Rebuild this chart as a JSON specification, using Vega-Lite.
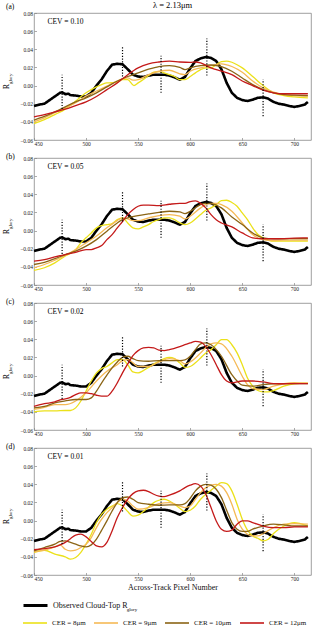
{
  "$schema": "https://vega.github.io/schema/vega-lite/v6.json",
  "padding": {"left": 3, "top": 1, "right": 2, "bottom": 0},
  "title": {"text": "λ = 2.13μm", "anchor": "middle", "frame": "group", "offset": -7, "fontSize": 8.5, "font": "Liberation Serif", "fontWeight": "normal"},
  "bounds": "flush",
  "spacing": 18,
  "datasets": {
    "obs": [
      {"x":450,"v":-0.0225},{"x":455,"v":-0.021},{"x":460,"v":-0.02},{"x":465,"v":-0.016},{"x":470,"v":-0.012},{"x":475,"v":-0.008},{"x":477,"v":-0.0075},{"x":480,"v":-0.0095},{"x":483,"v":-0.009},{"x":485,"v":-0.0105},{"x":490,"v":-0.011},{"x":495,"v":-0.012},{"x":500,"v":-0.012},{"x":505,"v":-0.008},{"x":510,"v":0.0},{"x":515,"v":0.007},{"x":520,"v":0.016},{"x":525,"v":0.023},{"x":530,"v":0.024},{"x":535,"v":0.0235},{"x":540,"v":0.018},{"x":545,"v":0.012},{"x":550,"v":0.010},{"x":555,"v":0.0095},{"x":560,"v":0.011},{"x":565,"v":0.012},{"x":570,"v":0.012},{"x":575,"v":0.012},{"x":580,"v":0.011},{"x":585,"v":0.009},{"x":590,"v":0.0065},{"x":595,"v":0.0095},{"x":600,"v":0.019},{"x":605,"v":0.027},{"x":610,"v":0.030},{"x":615,"v":0.0315},{"x":620,"v":0.0305},{"x":625,"v":0.027},{"x":630,"v":0.018},{"x":635,"v":0.003},{"x":640,"v":-0.008},{"x":645,"v":-0.0135},{"x":650,"v":-0.016},{"x":655,"v":-0.017},{"x":660,"v":-0.0155},{"x":665,"v":-0.0135},{"x":670,"v":-0.013},{"x":675,"v":-0.0145},{"x":680,"v":-0.018},{"x":685,"v":-0.02},{"x":690,"v":-0.021},{"x":695,"v":-0.0225},{"x":700,"v":-0.0235},{"x":705,"v":-0.0225},{"x":710,"v":-0.021},{"x":713,"v":-0.018}
    ],
    "dots": [
      {"x":477,"y1":-0.0257,"y2":0.012},{"x":535,"y1":0.010,"y2":0.044},{"x":572,"y1":-0.008,"y2":0.033},{"x":616,"y1":0.011,"y2":0.052},{"x":670,"y1":-0.0337,"y2":0.0066}
    ],
    "notes": [
      {"p":"a","lab":"(a)","cev":"CEV = 0.10"},{"p":"b","lab":"(b)","cev":"CEV = 0.05"},{"p":"c","lab":"(c)","cev":"CEV = 0.02"},{"p":"d","lab":"(d)","cev":"CEV = 0.01"}
    ],
    "sims": [
      {"p":"a","c":"CER = 8μm","x":450,"v":-0.042},{"p":"a","c":"CER = 8μm","x":460,"v":-0.0375},{"p":"a","c":"CER = 8μm","x":470,"v":-0.032},{"p":"a","c":"CER = 8μm","x":480,"v":-0.026},{"p":"a","c":"CER = 8μm","x":490,"v":-0.017},{"p":"a","c":"CER = 8μm","x":500,"v":-0.008},{"p":"a","c":"CER = 8μm","x":510,"v":-0.0015},{"p":"a","c":"CER = 8μm","x":520,"v":0.003},{"p":"a","c":"CER = 8μm","x":530,"v":0.0037},{"p":"a","c":"CER = 8μm","x":535,"v":0.0066},{"p":"a","c":"CER = 8μm","x":540,"v":0.0066},{"p":"a","c":"CER = 8μm","x":546,"v":0.0},{"p":"a","c":"CER = 8μm","x":550,"v":0.003},{"p":"a","c":"CER = 8μm","x":555,"v":0.0066},{"p":"a","c":"CER = 8μm","x":560,"v":0.011},{"p":"a","c":"CER = 8μm","x":565,"v":0.0147},{"p":"a","c":"CER = 8μm","x":570,"v":0.0154},{"p":"a","c":"CER = 8μm","x":575,"v":0.014},{"p":"a","c":"CER = 8μm","x":580,"v":0.012},{"p":"a","c":"CER = 8μm","x":585,"v":0.010},{"p":"a","c":"CER = 8μm","x":590,"v":0.0066},{"p":"a","c":"CER = 8μm","x":595,"v":0.0066},{"p":"a","c":"CER = 8μm","x":600,"v":0.010},{"p":"a","c":"CER = 8μm","x":605,"v":0.014},{"p":"a","c":"CER = 8μm","x":610,"v":0.0176},{"p":"a","c":"CER = 8μm","x":615,"v":0.0195},{"p":"a","c":"CER = 8μm","x":620,"v":0.0195},{"p":"a","c":"CER = 8μm","x":625,"v":0.023},{"p":"a","c":"CER = 8μm","x":630,"v":0.0264},{"p":"a","c":"CER = 8μm","x":635,"v":0.027},{"p":"a","c":"CER = 8μm","x":640,"v":0.0257},{"p":"a","c":"CER = 8μm","x":645,"v":0.023},{"p":"a","c":"CER = 8μm","x":650,"v":0.0195},{"p":"a","c":"CER = 8μm","x":660,"v":0.010},{"p":"a","c":"CER = 8μm","x":670,"v":0.0},{"p":"a","c":"CER = 8μm","x":680,"v":-0.008},{"p":"a","c":"CER = 8μm","x":690,"v":-0.011},{"p":"a","c":"CER = 8μm","x":700,"v":-0.0125},{"p":"a","c":"CER = 8μm","x":713,"v":-0.0135},
      {"p":"a","c":"CER = 9μm","x":450,"v":-0.040},{"p":"a","c":"CER = 9μm","x":460,"v":-0.0356},{"p":"a","c":"CER = 9μm","x":470,"v":-0.030},{"p":"a","c":"CER = 9μm","x":480,"v":-0.0246},{"p":"a","c":"CER = 9μm","x":490,"v":-0.019},{"p":"a","c":"CER = 9μm","x":500,"v":-0.0117},{"p":"a","c":"CER = 9μm","x":510,"v":-0.006},{"p":"a","c":"CER = 9μm","x":520,"v":-0.0007},{"p":"a","c":"CER = 9μm","x":530,"v":0.005},{"p":"a","c":"CER = 9μm","x":540,"v":0.0084},{"p":"a","c":"CER = 9μm","x":545,"v":0.006},{"p":"a","c":"CER = 9μm","x":550,"v":0.0066},{"p":"a","c":"CER = 9μm","x":560,"v":0.012},{"p":"a","c":"CER = 9μm","x":570,"v":0.0158},{"p":"a","c":"CER = 9μm","x":580,"v":0.0169},{"p":"a","c":"CER = 9μm","x":590,"v":0.013},{"p":"a","c":"CER = 9μm","x":595,"v":0.012},{"p":"a","c":"CER = 9μm","x":600,"v":0.0158},{"p":"a","c":"CER = 9μm","x":610,"v":0.0195},{"p":"a","c":"CER = 9μm","x":620,"v":0.022},{"p":"a","c":"CER = 9μm","x":630,"v":0.024},{"p":"a","c":"CER = 9μm","x":640,"v":0.021},{"p":"a","c":"CER = 9μm","x":650,"v":0.0147},{"p":"a","c":"CER = 9μm","x":660,"v":0.005},{"p":"a","c":"CER = 9μm","x":670,"v":-0.0026},{"p":"a","c":"CER = 9μm","x":680,"v":-0.0073},{"p":"a","c":"CER = 9μm","x":690,"v":-0.010},{"p":"a","c":"CER = 9μm","x":700,"v":-0.011},{"p":"a","c":"CER = 9μm","x":713,"v":-0.0117},
      {"p":"a","c":"CER = 10μm","x":450,"v":-0.038},{"p":"a","c":"CER = 10μm","x":460,"v":-0.034},{"p":"a","c":"CER = 10μm","x":470,"v":-0.029},{"p":"a","c":"CER = 10μm","x":480,"v":-0.0235},{"p":"a","c":"CER = 10μm","x":490,"v":-0.018},{"p":"a","c":"CER = 10μm","x":500,"v":-0.0136},{"p":"a","c":"CER = 10μm","x":510,"v":-0.008},{"p":"a","c":"CER = 10μm","x":520,"v":-0.0015},{"p":"a","c":"CER = 10μm","x":530,"v":0.005},{"p":"a","c":"CER = 10μm","x":540,"v":0.010},{"p":"a","c":"CER = 10μm","x":550,"v":0.014},{"p":"a","c":"CER = 10μm","x":560,"v":0.018},{"p":"a","c":"CER = 10μm","x":570,"v":0.021},{"p":"a","c":"CER = 10μm","x":580,"v":0.022},{"p":"a","c":"CER = 10μm","x":590,"v":0.020},{"p":"a","c":"CER = 10μm","x":595,"v":0.0176},{"p":"a","c":"CER = 10μm","x":600,"v":0.0195},{"p":"a","c":"CER = 10μm","x":610,"v":0.022},{"p":"a","c":"CER = 10μm","x":620,"v":0.0227},{"p":"a","c":"CER = 10μm","x":630,"v":0.021},{"p":"a","c":"CER = 10μm","x":640,"v":0.0158},{"p":"a","c":"CER = 10μm","x":650,"v":0.0084},{"p":"a","c":"CER = 10μm","x":660,"v":0.0011},{"p":"a","c":"CER = 10μm","x":670,"v":-0.0044},{"p":"a","c":"CER = 10μm","x":680,"v":-0.008},{"p":"a","c":"CER = 10μm","x":690,"v":-0.010},{"p":"a","c":"CER = 10μm","x":700,"v":-0.0106},{"p":"a","c":"CER = 10μm","x":713,"v":-0.011},
      {"p":"a","c":"CER = 12μm","x":450,"v":-0.0345},{"p":"a","c":"CER = 12μm","x":460,"v":-0.032},{"p":"a","c":"CER = 12μm","x":470,"v":-0.029},{"p":"a","c":"CER = 12μm","x":480,"v":-0.026},{"p":"a","c":"CER = 12μm","x":490,"v":-0.022},{"p":"a","c":"CER = 12μm","x":500,"v":-0.018},{"p":"a","c":"CER = 12μm","x":510,"v":-0.012},{"p":"a","c":"CER = 12μm","x":520,"v":-0.0045},{"p":"a","c":"CER = 12μm","x":530,"v":0.003},{"p":"a","c":"CER = 12μm","x":540,"v":0.012},{"p":"a","c":"CER = 12μm","x":550,"v":0.0195},{"p":"a","c":"CER = 12μm","x":560,"v":0.024},{"p":"a","c":"CER = 12μm","x":570,"v":0.026},{"p":"a","c":"CER = 12μm","x":580,"v":0.027},{"p":"a","c":"CER = 12μm","x":590,"v":0.026},{"p":"a","c":"CER = 12μm","x":600,"v":0.0255},{"p":"a","c":"CER = 12μm","x":605,"v":0.026},{"p":"a","c":"CER = 12μm","x":610,"v":0.025},{"p":"a","c":"CER = 12μm","x":620,"v":0.0195},{"p":"a","c":"CER = 12μm","x":630,"v":0.016},{"p":"a","c":"CER = 12μm","x":640,"v":0.012},{"p":"a","c":"CER = 12μm","x":650,"v":0.005},{"p":"a","c":"CER = 12μm","x":660,"v":0.0},{"p":"a","c":"CER = 12μm","x":670,"v":-0.005},{"p":"a","c":"CER = 12μm","x":680,"v":-0.008},{"p":"a","c":"CER = 12μm","x":690,"v":-0.009},{"p":"a","c":"CER = 12μm","x":700,"v":-0.009},{"p":"a","c":"CER = 12μm","x":713,"v":-0.009},

      {"p":"b","c":"CER = 8μm","x":450,"v":-0.044},{"p":"b","c":"CER = 8μm","x":460,"v":-0.041},{"p":"b","c":"CER = 8μm","x":470,"v":-0.0356},{"p":"b","c":"CER = 8μm","x":480,"v":-0.028},{"p":"b","c":"CER = 8μm","x":490,"v":-0.021},{"p":"b","c":"CER = 8μm","x":495,"v":-0.0136},{"p":"b","c":"CER = 8μm","x":500,"v":-0.008},{"p":"b","c":"CER = 8μm","x":505,"v":-0.0026},{"p":"b","c":"CER = 8μm","x":510,"v":0.003},{"p":"b","c":"CER = 8μm","x":515,"v":0.0055},{"p":"b","c":"CER = 8μm","x":520,"v":0.0066},{"p":"b","c":"CER = 8μm","x":525,"v":0.0077},{"p":"b","c":"CER = 8μm","x":530,"v":0.012},{"p":"b","c":"CER = 8μm","x":535,"v":0.014},{"p":"b","c":"CER = 8μm","x":540,"v":0.0084},{"p":"b","c":"CER = 8μm","x":545,"v":0.003},{"p":"b","c":"CER = 8μm","x":550,"v":0.0018},{"p":"b","c":"CER = 8μm","x":555,"v":0.004},{"p":"b","c":"CER = 8μm","x":560,"v":0.0066},{"p":"b","c":"CER = 8μm","x":565,"v":0.010},{"p":"b","c":"CER = 8μm","x":570,"v":0.012},{"p":"b","c":"CER = 8μm","x":575,"v":0.014},{"p":"b","c":"CER = 8μm","x":580,"v":0.014},{"p":"b","c":"CER = 8μm","x":585,"v":0.012},{"p":"b","c":"CER = 8μm","x":590,"v":0.0084},{"p":"b","c":"CER = 8μm","x":595,"v":0.0066},{"p":"b","c":"CER = 8μm","x":600,"v":0.0084},{"p":"b","c":"CER = 8μm","x":605,"v":0.0128},{"p":"b","c":"CER = 8μm","x":610,"v":0.0176},{"p":"b","c":"CER = 8μm","x":615,"v":0.0224},{"p":"b","c":"CER = 8μm","x":620,"v":0.025},{"p":"b","c":"CER = 8μm","x":625,"v":0.0286},{"p":"b","c":"CER = 8μm","x":630,"v":0.033},{"p":"b","c":"CER = 8μm","x":635,"v":0.0334},{"p":"b","c":"CER = 8μm","x":640,"v":0.031},{"p":"b","c":"CER = 8μm","x":645,"v":0.0268},{"p":"b","c":"CER = 8μm","x":650,"v":0.0194},{"p":"b","c":"CER = 8μm","x":655,"v":0.012},{"p":"b","c":"CER = 8μm","x":660,"v":0.003},{"p":"b","c":"CER = 8μm","x":665,"v":-0.0044},{"p":"b","c":"CER = 8μm","x":670,"v":-0.008},{"p":"b","c":"CER = 8μm","x":680,"v":-0.0117},{"p":"b","c":"CER = 8μm","x":690,"v":-0.0117},{"p":"b","c":"CER = 8μm","x":700,"v":-0.0117},{"p":"b","c":"CER = 8μm","x":713,"v":-0.0117},
      {"p":"b","c":"CER = 9μm","x":450,"v":-0.041},{"p":"b","c":"CER = 9μm","x":460,"v":-0.0374},{"p":"b","c":"CER = 9μm","x":470,"v":-0.0327},{"p":"b","c":"CER = 9μm","x":480,"v":-0.0275},{"p":"b","c":"CER = 9μm","x":490,"v":-0.021},{"p":"b","c":"CER = 9μm","x":500,"v":-0.0136},{"p":"b","c":"CER = 9μm","x":510,"v":-0.006},{"p":"b","c":"CER = 9μm","x":520,"v":0.003},{"p":"b","c":"CER = 9μm","x":530,"v":0.011},{"p":"b","c":"CER = 9μm","x":535,"v":0.014},{"p":"b","c":"CER = 9μm","x":540,"v":0.0128},{"p":"b","c":"CER = 9μm","x":545,"v":0.011},{"p":"b","c":"CER = 9μm","x":550,"v":0.011},{"p":"b","c":"CER = 9μm","x":560,"v":0.014},{"p":"b","c":"CER = 9μm","x":570,"v":0.0165},{"p":"b","c":"CER = 9μm","x":580,"v":0.0176},{"p":"b","c":"CER = 9μm","x":590,"v":0.0158},{"p":"b","c":"CER = 9μm","x":595,"v":0.0128},{"p":"b","c":"CER = 9μm","x":600,"v":0.0158},{"p":"b","c":"CER = 9μm","x":610,"v":0.025},{"p":"b","c":"CER = 9μm","x":615,"v":0.0286},{"p":"b","c":"CER = 9μm","x":620,"v":0.030},{"p":"b","c":"CER = 9μm","x":625,"v":0.030},{"p":"b","c":"CER = 9μm","x":630,"v":0.0286},{"p":"b","c":"CER = 9μm","x":640,"v":0.0213},{"p":"b","c":"CER = 9μm","x":650,"v":0.0084},{"p":"b","c":"CER = 9μm","x":660,"v":-0.0044},{"p":"b","c":"CER = 9μm","x":670,"v":-0.010},{"p":"b","c":"CER = 9μm","x":680,"v":-0.011},{"p":"b","c":"CER = 9μm","x":690,"v":-0.0106},{"p":"b","c":"CER = 9μm","x":700,"v":-0.0106},{"p":"b","c":"CER = 9μm","x":713,"v":-0.0106},
      {"p":"b","c":"CER = 10μm","x":450,"v":-0.0374},{"p":"b","c":"CER = 10μm","x":460,"v":-0.035},{"p":"b","c":"CER = 10μm","x":470,"v":-0.031},{"p":"b","c":"CER = 10μm","x":480,"v":-0.0264},{"p":"b","c":"CER = 10μm","x":490,"v":-0.0227},{"p":"b","c":"CER = 10μm","x":500,"v":-0.0172},{"p":"b","c":"CER = 10μm","x":510,"v":-0.010},{"p":"b","c":"CER = 10μm","x":520,"v":-0.0007},{"p":"b","c":"CER = 10μm","x":530,"v":0.0084},{"p":"b","c":"CER = 10μm","x":535,"v":0.012},{"p":"b","c":"CER = 10μm","x":540,"v":0.014},{"p":"b","c":"CER = 10μm","x":550,"v":0.0165},{"p":"b","c":"CER = 10μm","x":560,"v":0.0183},{"p":"b","c":"CER = 10μm","x":570,"v":0.020},{"p":"b","c":"CER = 10μm","x":580,"v":0.0213},{"p":"b","c":"CER = 10μm","x":590,"v":0.0205},{"p":"b","c":"CER = 10μm","x":595,"v":0.0187},{"p":"b","c":"CER = 10μm","x":600,"v":0.0213},{"p":"b","c":"CER = 10μm","x":610,"v":0.0286},{"p":"b","c":"CER = 10μm","x":615,"v":0.030},{"p":"b","c":"CER = 10μm","x":620,"v":0.0297},{"p":"b","c":"CER = 10μm","x":630,"v":0.025},{"p":"b","c":"CER = 10μm","x":640,"v":0.015},{"p":"b","c":"CER = 10μm","x":650,"v":0.0066},{"p":"b","c":"CER = 10μm","x":660,"v":-0.0026},{"p":"b","c":"CER = 10μm","x":670,"v":-0.008},{"p":"b","c":"CER = 10μm","x":680,"v":-0.009},{"p":"b","c":"CER = 10μm","x":690,"v":-0.009},{"p":"b","c":"CER = 10μm","x":700,"v":-0.0088},{"p":"b","c":"CER = 10μm","x":713,"v":-0.0088},
      {"p":"b","c":"CER = 12μm","x":450,"v":-0.0338},{"p":"b","c":"CER = 12μm","x":460,"v":-0.032},{"p":"b","c":"CER = 12μm","x":470,"v":-0.029},{"p":"b","c":"CER = 12μm","x":480,"v":-0.0264},{"p":"b","c":"CER = 12μm","x":490,"v":-0.024},{"p":"b","c":"CER = 12μm","x":500,"v":-0.021},{"p":"b","c":"CER = 12μm","x":505,"v":-0.021},{"p":"b","c":"CER = 12μm","x":510,"v":-0.019},{"p":"b","c":"CER = 12μm","x":515,"v":-0.0165},{"p":"b","c":"CER = 12μm","x":520,"v":-0.010},{"p":"b","c":"CER = 12μm","x":525,"v":-0.0044},{"p":"b","c":"CER = 12μm","x":530,"v":0.003},{"p":"b","c":"CER = 12μm","x":535,"v":0.010},{"p":"b","c":"CER = 12μm","x":540,"v":0.0176},{"p":"b","c":"CER = 12μm","x":545,"v":0.023},{"p":"b","c":"CER = 12μm","x":550,"v":0.0268},{"p":"b","c":"CER = 12μm","x":555,"v":0.028},{"p":"b","c":"CER = 12μm","x":560,"v":0.028},{"p":"b","c":"CER = 12μm","x":570,"v":0.0275},{"p":"b","c":"CER = 12μm","x":580,"v":0.029},{"p":"b","c":"CER = 12μm","x":590,"v":0.030},{"p":"b","c":"CER = 12μm","x":595,"v":0.030},{"p":"b","c":"CER = 12μm","x":600,"v":0.032},{"p":"b","c":"CER = 12μm","x":605,"v":0.0327},{"p":"b","c":"CER = 12μm","x":610,"v":0.030},{"p":"b","c":"CER = 12μm","x":615,"v":0.025},{"p":"b","c":"CER = 12μm","x":620,"v":0.0176},{"p":"b","c":"CER = 12μm","x":625,"v":0.012},{"p":"b","c":"CER = 12μm","x":630,"v":0.0084},{"p":"b","c":"CER = 12μm","x":640,"v":0.004},{"p":"b","c":"CER = 12μm","x":650,"v":-0.0026},{"p":"b","c":"CER = 12μm","x":660,"v":-0.008},{"p":"b","c":"CER = 12μm","x":670,"v":-0.009},{"p":"b","c":"CER = 12μm","x":680,"v":-0.009},{"p":"b","c":"CER = 12μm","x":690,"v":-0.0088},{"p":"b","c":"CER = 12μm","x":700,"v":-0.0084},{"p":"b","c":"CER = 12μm","x":713,"v":-0.008},

      {"p":"c","c":"CER = 8μm","x":450,"v":-0.040},{"p":"c","c":"CER = 8μm","x":460,"v":-0.039},{"p":"c","c":"CER = 8μm","x":470,"v":-0.039},{"p":"c","c":"CER = 8μm","x":480,"v":-0.0385},{"p":"c","c":"CER = 8μm","x":485,"v":-0.0385},{"p":"c","c":"CER = 8μm","x":490,"v":-0.0356},{"p":"c","c":"CER = 8μm","x":495,"v":-0.028},{"p":"c","c":"CER = 8μm","x":500,"v":-0.017},{"p":"c","c":"CER = 8μm","x":505,"v":-0.006},{"p":"c","c":"CER = 8μm","x":510,"v":0.003},{"p":"c","c":"CER = 8μm","x":515,"v":0.0077},{"p":"c","c":"CER = 8μm","x":520,"v":0.010},{"p":"c","c":"CER = 8μm","x":525,"v":0.014},{"p":"c","c":"CER = 8μm","x":530,"v":0.0176},{"p":"c","c":"CER = 8μm","x":535,"v":0.0176},{"p":"c","c":"CER = 8μm","x":540,"v":0.012},{"p":"c","c":"CER = 8μm","x":545,"v":0.004},{"p":"c","c":"CER = 8μm","x":550,"v":0.003},{"p":"c","c":"CER = 8μm","x":555,"v":0.0055},{"p":"c","c":"CER = 8μm","x":560,"v":0.009},{"p":"c","c":"CER = 8μm","x":565,"v":0.0128},{"p":"c","c":"CER = 8μm","x":570,"v":0.0158},{"p":"c","c":"CER = 8μm","x":575,"v":0.0187},{"p":"c","c":"CER = 8μm","x":580,"v":0.020},{"p":"c","c":"CER = 8μm","x":585,"v":0.0187},{"p":"c","c":"CER = 8μm","x":590,"v":0.014},{"p":"c","c":"CER = 8μm","x":595,"v":0.009},{"p":"c","c":"CER = 8μm","x":600,"v":0.010},{"p":"c","c":"CER = 8μm","x":605,"v":0.014},{"p":"c","c":"CER = 8μm","x":610,"v":0.0194},{"p":"c","c":"CER = 8μm","x":615,"v":0.025},{"p":"c","c":"CER = 8μm","x":620,"v":0.0286},{"p":"c","c":"CER = 8μm","x":625,"v":0.034},{"p":"c","c":"CER = 8μm","x":630,"v":0.0396},{"p":"c","c":"CER = 8μm","x":635,"v":0.0396},{"p":"c","c":"CER = 8μm","x":640,"v":0.034},{"p":"c","c":"CER = 8μm","x":645,"v":0.025},{"p":"c","c":"CER = 8μm","x":650,"v":0.012},{"p":"c","c":"CER = 8μm","x":655,"v":-0.0026},{"p":"c","c":"CER = 8μm","x":660,"v":-0.0117},{"p":"c","c":"CER = 8μm","x":665,"v":-0.0165},{"p":"c","c":"CER = 8μm","x":670,"v":-0.018},{"p":"c","c":"CER = 8μm","x":675,"v":-0.018},{"p":"c","c":"CER = 8μm","x":680,"v":-0.0165},{"p":"c","c":"CER = 8μm","x":690,"v":-0.0117},{"p":"c","c":"CER = 8μm","x":700,"v":-0.009},{"p":"c","c":"CER = 8μm","x":713,"v":-0.0084},
      {"p":"c","c":"CER = 9μm","x":450,"v":-0.0374},{"p":"c","c":"CER = 9μm","x":460,"v":-0.035},{"p":"c","c":"CER = 9μm","x":470,"v":-0.032},{"p":"c","c":"CER = 9μm","x":480,"v":-0.032},{"p":"c","c":"CER = 9μm","x":490,"v":-0.028},{"p":"c","c":"CER = 9μm","x":500,"v":-0.019},{"p":"c","c":"CER = 9μm","x":510,"v":-0.006},{"p":"c","c":"CER = 9μm","x":520,"v":0.0048},{"p":"c","c":"CER = 9μm","x":530,"v":0.012},{"p":"c","c":"CER = 9μm","x":535,"v":0.0165},{"p":"c","c":"CER = 9μm","x":540,"v":0.0176},{"p":"c","c":"CER = 9μm","x":545,"v":0.014},{"p":"c","c":"CER = 9μm","x":550,"v":0.010},{"p":"c","c":"CER = 9μm","x":560,"v":0.010},{"p":"c","c":"CER = 9μm","x":570,"v":0.015},{"p":"c","c":"CER = 9μm","x":580,"v":0.0187},{"p":"c","c":"CER = 9μm","x":590,"v":0.0165},{"p":"c","c":"CER = 9μm","x":595,"v":0.0128},{"p":"c","c":"CER = 9μm","x":600,"v":0.015},{"p":"c","c":"CER = 9μm","x":610,"v":0.025},{"p":"c","c":"CER = 9μm","x":615,"v":0.031},{"p":"c","c":"CER = 9μm","x":620,"v":0.035},{"p":"c","c":"CER = 9μm","x":625,"v":0.036},{"p":"c","c":"CER = 9μm","x":630,"v":0.035},{"p":"c","c":"CER = 9μm","x":640,"v":0.0213},{"p":"c","c":"CER = 9μm","x":650,"v":-0.0007},{"p":"c","c":"CER = 9μm","x":655,"v":-0.010},{"p":"c","c":"CER = 9μm","x":660,"v":-0.0143},{"p":"c","c":"CER = 9μm","x":670,"v":-0.0154},{"p":"c","c":"CER = 9μm","x":680,"v":-0.0117},{"p":"c","c":"CER = 9μm","x":690,"v":-0.009},{"p":"c","c":"CER = 9μm","x":700,"v":-0.0077},{"p":"c","c":"CER = 9μm","x":713,"v":-0.0084},
      {"p":"c","c":"CER = 10μm","x":450,"v":-0.0356},{"p":"c","c":"CER = 10μm","x":460,"v":-0.034},{"p":"c","c":"CER = 10μm","x":470,"v":-0.030},{"p":"c","c":"CER = 10μm","x":480,"v":-0.028},{"p":"c","c":"CER = 10μm","x":490,"v":-0.0264},{"p":"c","c":"CER = 10μm","x":500,"v":-0.0264},{"p":"c","c":"CER = 10μm","x":505,"v":-0.0246},{"p":"c","c":"CER = 10μm","x":510,"v":-0.0172},{"p":"c","c":"CER = 10μm","x":515,"v":-0.008},{"p":"c","c":"CER = 10μm","x":520,"v":0.0004},{"p":"c","c":"CER = 10μm","x":525,"v":0.0084},{"p":"c","c":"CER = 10μm","x":530,"v":0.015},{"p":"c","c":"CER = 10μm","x":535,"v":0.020},{"p":"c","c":"CER = 10μm","x":540,"v":0.0213},{"p":"c","c":"CER = 10μm","x":545,"v":0.0187},{"p":"c","c":"CER = 10μm","x":550,"v":0.0165},{"p":"c","c":"CER = 10μm","x":560,"v":0.0158},{"p":"c","c":"CER = 10μm","x":570,"v":0.0165},{"p":"c","c":"CER = 10μm","x":580,"v":0.0165},{"p":"c","c":"CER = 10μm","x":590,"v":0.0165},{"p":"c","c":"CER = 10μm","x":595,"v":0.0172},{"p":"c","c":"CER = 10μm","x":600,"v":0.0213},{"p":"c","c":"CER = 10μm","x":605,"v":0.0286},{"p":"c","c":"CER = 10μm","x":610,"v":0.035},{"p":"c","c":"CER = 10μm","x":615,"v":0.036},{"p":"c","c":"CER = 10μm","x":620,"v":0.034},{"p":"c","c":"CER = 10μm","x":630,"v":0.0213},{"p":"c","c":"CER = 10μm","x":640,"v":0.001},{"p":"c","c":"CER = 10μm","x":645,"v":-0.006},{"p":"c","c":"CER = 10μm","x":650,"v":-0.0106},{"p":"c","c":"CER = 10μm","x":660,"v":-0.0117},{"p":"c","c":"CER = 10μm","x":670,"v":-0.010},{"p":"c","c":"CER = 10μm","x":680,"v":-0.009},{"p":"c","c":"CER = 10μm","x":690,"v":-0.0088},{"p":"c","c":"CER = 10μm","x":700,"v":-0.0088},{"p":"c","c":"CER = 10μm","x":713,"v":-0.0088},
      {"p":"c","c":"CER = 12μm","x":450,"v":-0.034},{"p":"c","c":"CER = 12μm","x":460,"v":-0.031},{"p":"c","c":"CER = 12μm","x":470,"v":-0.029},{"p":"c","c":"CER = 12μm","x":475,"v":-0.0268},{"p":"c","c":"CER = 12μm","x":480,"v":-0.0257},{"p":"c","c":"CER = 12μm","x":485,"v":-0.024},{"p":"c","c":"CER = 12μm","x":490,"v":-0.021},{"p":"c","c":"CER = 12μm","x":495,"v":-0.019},{"p":"c","c":"CER = 12μm","x":500,"v":-0.019},{"p":"c","c":"CER = 12μm","x":505,"v":-0.020},{"p":"c","c":"CER = 12μm","x":510,"v":-0.0217},{"p":"c","c":"CER = 12μm","x":515,"v":-0.0227},{"p":"c","c":"CER = 12μm","x":520,"v":-0.0227},{"p":"c","c":"CER = 12μm","x":525,"v":-0.0172},{"p":"c","c":"CER = 12μm","x":530,"v":-0.008},{"p":"c","c":"CER = 12μm","x":535,"v":0.003},{"p":"c","c":"CER = 12μm","x":540,"v":0.0128},{"p":"c","c":"CER = 12μm","x":545,"v":0.022},{"p":"c","c":"CER = 12μm","x":550,"v":0.0275},{"p":"c","c":"CER = 12μm","x":555,"v":0.0305},{"p":"c","c":"CER = 12μm","x":560,"v":0.031},{"p":"c","c":"CER = 12μm","x":565,"v":0.0305},{"p":"c","c":"CER = 12μm","x":570,"v":0.028},{"p":"c","c":"CER = 12μm","x":575,"v":0.0275},{"p":"c","c":"CER = 12μm","x":580,"v":0.0286},{"p":"c","c":"CER = 12μm","x":590,"v":0.032},{"p":"c","c":"CER = 12μm","x":595,"v":0.034},{"p":"c","c":"CER = 12μm","x":600,"v":0.036},{"p":"c","c":"CER = 12μm","x":605,"v":0.0378},{"p":"c","c":"CER = 12μm","x":610,"v":0.037},{"p":"c","c":"CER = 12μm","x":615,"v":0.032},{"p":"c","c":"CER = 12μm","x":620,"v":0.023},{"p":"c","c":"CER = 12μm","x":625,"v":0.012},{"p":"c","c":"CER = 12μm","x":630,"v":0.001},{"p":"c","c":"CER = 12μm","x":635,"v":-0.006},{"p":"c","c":"CER = 12μm","x":640,"v":-0.008},{"p":"c","c":"CER = 12μm","x":650,"v":-0.006},{"p":"c","c":"CER = 12μm","x":660,"v":-0.006},{"p":"c","c":"CER = 12μm","x":670,"v":-0.007},{"p":"c","c":"CER = 12μm","x":680,"v":-0.0088},{"p":"c","c":"CER = 12μm","x":690,"v":-0.009},{"p":"c","c":"CER = 12μm","x":700,"v":-0.0088},{"p":"c","c":"CER = 12μm","x":713,"v":-0.0088},

      {"p":"d","c":"CER = 8μm","x":450,"v":-0.035},{"p":"d","c":"CER = 8μm","x":460,"v":-0.0327},{"p":"d","c":"CER = 8μm","x":470,"v":-0.037},{"p":"d","c":"CER = 8μm","x":480,"v":-0.040},{"p":"d","c":"CER = 8μm","x":485,"v":-0.0426},{"p":"d","c":"CER = 8μm","x":490,"v":-0.0407},{"p":"d","c":"CER = 8μm","x":495,"v":-0.035},{"p":"d","c":"CER = 8μm","x":500,"v":-0.026},{"p":"d","c":"CER = 8μm","x":505,"v":-0.015},{"p":"d","c":"CER = 8μm","x":510,"v":-0.0022},{"p":"d","c":"CER = 8μm","x":515,"v":0.007},{"p":"d","c":"CER = 8μm","x":520,"v":0.0125},{"p":"d","c":"CER = 8μm","x":525,"v":0.016},{"p":"d","c":"CER = 8μm","x":530,"v":0.0187},{"p":"d","c":"CER = 8μm","x":535,"v":0.016},{"p":"d","c":"CER = 8μm","x":540,"v":0.0099},{"p":"d","c":"CER = 8μm","x":545,"v":0.005},{"p":"d","c":"CER = 8μm","x":550,"v":0.006},{"p":"d","c":"CER = 8μm","x":555,"v":0.0099},{"p":"d","c":"CER = 8μm","x":560,"v":0.015},{"p":"d","c":"CER = 8μm","x":565,"v":0.0198},{"p":"d","c":"CER = 8μm","x":570,"v":0.0224},{"p":"d","c":"CER = 8μm","x":575,"v":0.0235},{"p":"d","c":"CER = 8μm","x":580,"v":0.0216},{"p":"d","c":"CER = 8μm","x":585,"v":0.018},{"p":"d","c":"CER = 8μm","x":590,"v":0.0136},{"p":"d","c":"CER = 8μm","x":595,"v":0.0099},{"p":"d","c":"CER = 8μm","x":600,"v":0.0114},{"p":"d","c":"CER = 8μm","x":605,"v":0.016},{"p":"d","c":"CER = 8μm","x":610,"v":0.0235},{"p":"d","c":"CER = 8μm","x":615,"v":0.029},{"p":"d","c":"CER = 8μm","x":620,"v":0.0334},{"p":"d","c":"CER = 8μm","x":625,"v":0.038},{"p":"d","c":"CER = 8μm","x":630,"v":0.0418},{"p":"d","c":"CER = 8μm","x":635,"v":0.0407},{"p":"d","c":"CER = 8μm","x":640,"v":0.0327},{"p":"d","c":"CER = 8μm","x":645,"v":0.018},{"p":"d","c":"CER = 8μm","x":650,"v":0.0015},{"p":"d","c":"CER = 8μm","x":655,"v":-0.0106},{"p":"d","c":"CER = 8μm","x":660,"v":-0.0169},{"p":"d","c":"CER = 8μm","x":665,"v":-0.0195},{"p":"d","c":"CER = 8μm","x":670,"v":-0.0224},{"p":"d","c":"CER = 8μm","x":675,"v":-0.0205},{"p":"d","c":"CER = 8μm","x":680,"v":-0.0143},{"p":"d","c":"CER = 8μm","x":685,"v":-0.0095},{"p":"d","c":"CER = 8μm","x":690,"v":-0.006},{"p":"d","c":"CER = 8μm","x":695,"v":-0.0033},{"p":"d","c":"CER = 8μm","x":700,"v":-0.0022},{"p":"d","c":"CER = 8μm","x":705,"v":-0.003},{"p":"d","c":"CER = 8μm","x":713,"v":-0.006},
      {"p":"d","c":"CER = 9μm","x":450,"v":-0.0345},{"p":"d","c":"CER = 9μm","x":460,"v":-0.0327},{"p":"d","c":"CER = 9μm","x":470,"v":-0.029},{"p":"d","c":"CER = 9μm","x":475,"v":-0.0268},{"p":"d","c":"CER = 9μm","x":480,"v":-0.0316},{"p":"d","c":"CER = 9μm","x":485,"v":-0.0334},{"p":"d","c":"CER = 9μm","x":490,"v":-0.0327},{"p":"d","c":"CER = 9μm","x":495,"v":-0.0297},{"p":"d","c":"CER = 9μm","x":500,"v":-0.026},{"p":"d","c":"CER = 9μm","x":505,"v":-0.0187},{"p":"d","c":"CER = 9μm","x":510,"v":-0.0077},{"p":"d","c":"CER = 9μm","x":515,"v":0.0015},{"p":"d","c":"CER = 9μm","x":520,"v":0.0088},{"p":"d","c":"CER = 9μm","x":525,"v":0.0143},{"p":"d","c":"CER = 9μm","x":530,"v":0.0198},{"p":"d","c":"CER = 9μm","x":535,"v":0.0235},{"p":"d","c":"CER = 9μm","x":540,"v":0.0216},{"p":"d","c":"CER = 9μm","x":545,"v":0.016},{"p":"d","c":"CER = 9μm","x":550,"v":0.0125},{"p":"d","c":"CER = 9μm","x":560,"v":0.0143},{"p":"d","c":"CER = 9μm","x":570,"v":0.0187},{"p":"d","c":"CER = 9μm","x":580,"v":0.0198},{"p":"d","c":"CER = 9μm","x":590,"v":0.016},{"p":"d","c":"CER = 9μm","x":595,"v":0.0143},{"p":"d","c":"CER = 9μm","x":600,"v":0.016},{"p":"d","c":"CER = 9μm","x":605,"v":0.0235},{"p":"d","c":"CER = 9μm","x":610,"v":0.0308},{"p":"d","c":"CER = 9μm","x":615,"v":0.0363},{"p":"d","c":"CER = 9μm","x":620,"v":0.039},{"p":"d","c":"CER = 9μm","x":625,"v":0.040},{"p":"d","c":"CER = 9μm","x":630,"v":0.038},{"p":"d","c":"CER = 9μm","x":635,"v":0.0308},{"p":"d","c":"CER = 9μm","x":640,"v":0.018},{"p":"d","c":"CER = 9μm","x":645,"v":0.0015},{"p":"d","c":"CER = 9μm","x":650,"v":-0.0095},{"p":"d","c":"CER = 9μm","x":655,"v":-0.015},{"p":"d","c":"CER = 9μm","x":660,"v":-0.0169},{"p":"d","c":"CER = 9μm","x":665,"v":-0.0169},{"p":"d","c":"CER = 9μm","x":670,"v":-0.0143},{"p":"d","c":"CER = 9μm","x":680,"v":-0.0077},{"p":"d","c":"CER = 9μm","x":690,"v":-0.004},{"p":"d","c":"CER = 9μm","x":700,"v":-0.0033},{"p":"d","c":"CER = 9μm","x":713,"v":-0.004},
      {"p":"d","c":"CER = 10μm","x":450,"v":-0.0334},{"p":"d","c":"CER = 10μm","x":460,"v":-0.0297},{"p":"d","c":"CER = 10μm","x":470,"v":-0.026},{"p":"d","c":"CER = 10μm","x":475,"v":-0.023},{"p":"d","c":"CER = 10μm","x":480,"v":-0.0224},{"p":"d","c":"CER = 10μm","x":485,"v":-0.024},{"p":"d","c":"CER = 10μm","x":490,"v":-0.026},{"p":"d","c":"CER = 10μm","x":495,"v":-0.028},{"p":"d","c":"CER = 10μm","x":500,"v":-0.029},{"p":"d","c":"CER = 10μm","x":505,"v":-0.0268},{"p":"d","c":"CER = 10μm","x":510,"v":-0.0205},{"p":"d","c":"CER = 10μm","x":515,"v":-0.0106},{"p":"d","c":"CER = 10μm","x":520,"v":-0.0004},{"p":"d","c":"CER = 10μm","x":525,"v":0.0106},{"p":"d","c":"CER = 10μm","x":530,"v":0.0198},{"p":"d","c":"CER = 10μm","x":535,"v":0.0253},{"p":"d","c":"CER = 10μm","x":540,"v":0.026},{"p":"d","c":"CER = 10μm","x":545,"v":0.0235},{"p":"d","c":"CER = 10μm","x":550,"v":0.0198},{"p":"d","c":"CER = 10μm","x":560,"v":0.018},{"p":"d","c":"CER = 10μm","x":570,"v":0.0169},{"p":"d","c":"CER = 10μm","x":580,"v":0.0172},{"p":"d","c":"CER = 10μm","x":590,"v":0.0172},{"p":"d","c":"CER = 10μm","x":595,"v":0.0187},{"p":"d","c":"CER = 10μm","x":600,"v":0.0246},{"p":"d","c":"CER = 10μm","x":605,"v":0.0327},{"p":"d","c":"CER = 10μm","x":610,"v":0.038},{"p":"d","c":"CER = 10μm","x":615,"v":0.040},{"p":"d","c":"CER = 10μm","x":620,"v":0.039},{"p":"d","c":"CER = 10μm","x":625,"v":0.0345},{"p":"d","c":"CER = 10μm","x":630,"v":0.0253},{"p":"d","c":"CER = 10μm","x":635,"v":0.0114},{"p":"d","c":"CER = 10μm","x":640,"v":-0.0022},{"p":"d","c":"CER = 10μm","x":645,"v":-0.0095},{"p":"d","c":"CER = 10μm","x":650,"v":-0.012},{"p":"d","c":"CER = 10μm","x":655,"v":-0.012},{"p":"d","c":"CER = 10μm","x":660,"v":-0.0095},{"p":"d","c":"CER = 10μm","x":670,"v":-0.006},{"p":"d","c":"CER = 10μm","x":680,"v":-0.004},{"p":"d","c":"CER = 10μm","x":690,"v":-0.0048},{"p":"d","c":"CER = 10μm","x":700,"v":-0.006},{"p":"d","c":"CER = 10μm","x":713,"v":-0.006},
      {"p":"d","c":"CER = 12μm","x":450,"v":-0.032},{"p":"d","c":"CER = 12μm","x":460,"v":-0.031},{"p":"d","c":"CER = 12μm","x":470,"v":-0.029},{"p":"d","c":"CER = 12μm","x":475,"v":-0.0268},{"p":"d","c":"CER = 12μm","x":480,"v":-0.024},{"p":"d","c":"CER = 12μm","x":485,"v":-0.020},{"p":"d","c":"CER = 12μm","x":490,"v":-0.016},{"p":"d","c":"CER = 12μm","x":495,"v":-0.015},{"p":"d","c":"CER = 12μm","x":500,"v":-0.018},{"p":"d","c":"CER = 12μm","x":505,"v":-0.023},{"p":"d","c":"CER = 12μm","x":510,"v":-0.028},{"p":"d","c":"CER = 12μm","x":515,"v":-0.029},{"p":"d","c":"CER = 12μm","x":520,"v":-0.024},{"p":"d","c":"CER = 12μm","x":525,"v":-0.0114},{"p":"d","c":"CER = 12μm","x":530,"v":0.0033},{"p":"d","c":"CER = 12μm","x":535,"v":0.0143},{"p":"d","c":"CER = 12μm","x":540,"v":0.0235},{"p":"d","c":"CER = 12μm","x":545,"v":0.0297},{"p":"d","c":"CER = 12μm","x":550,"v":0.0327},{"p":"d","c":"CER = 12μm","x":555,"v":0.0334},{"p":"d","c":"CER = 12μm","x":560,"v":0.032},{"p":"d","c":"CER = 12μm","x":565,"v":0.029},{"p":"d","c":"CER = 12μm","x":570,"v":0.027},{"p":"d","c":"CER = 12μm","x":575,"v":0.0264},{"p":"d","c":"CER = 12μm","x":580,"v":0.028},{"p":"d","c":"CER = 12μm","x":590,"v":0.0327},{"p":"d","c":"CER = 12μm","x":595,"v":0.0363},{"p":"d","c":"CER = 12μm","x":600,"v":0.039},{"p":"d","c":"CER = 12μm","x":605,"v":0.0407},{"p":"d","c":"CER = 12μm","x":610,"v":0.038},{"p":"d","c":"CER = 12μm","x":615,"v":0.029},{"p":"d","c":"CER = 12μm","x":620,"v":0.0143},{"p":"d","c":"CER = 12μm","x":625,"v":-0.0004},{"p":"d","c":"CER = 12μm","x":630,"v":-0.0095},{"p":"d","c":"CER = 12μm","x":635,"v":-0.012},{"p":"d","c":"CER = 12μm","x":640,"v":-0.0106},{"p":"d","c":"CER = 12μm","x":645,"v":-0.004},{"p":"d","c":"CER = 12μm","x":650,"v":-0.0004},{"p":"d","c":"CER = 12μm","x":655,"v":-0.0004},{"p":"d","c":"CER = 12μm","x":660,"v":-0.0022},{"p":"d","c":"CER = 12μm","x":670,"v":-0.006},{"p":"d","c":"CER = 12μm","x":680,"v":-0.0077},{"p":"d","c":"CER = 12μm","x":690,"v":-0.0077},{"p":"d","c":"CER = 12μm","x":700,"v":-0.007},{"p":"d","c":"CER = 12μm","x":713,"v":-0.007}
    ]
  },
  "resolve": {"scale": {"color": "shared", "strokeDash": "shared"}, "legend": {"color": "shared", "strokeDash": "shared"}},
  "vconcat": [
    {
      "width": 277, "height": 127,
      "layer": [
        {"data": {"name": "obs"}, "mark": {"type": "line", "color": "#000", "strokeWidth": 2.6},
         "encoding": {"x": {"field": "x", "type": "quantitative", "scale": {"domain": [450, 716], "nice": false, "zero": false}, "axis": {"values": [450,500,550,600,650,700], "tickCount": 10, "title": null, "labelOverlap": false}},
                      "y": {"field": "v", "type": "quantitative", "scale": {"domain": [-0.06, 0.08], "nice": false, "zero": false}, "axis": {"values": [-0.06,-0.04,-0.02,0,0.02,0.04,0.06,0.08], "tickCount": 10, "format": ".2f", "title": null, "labelOverlap": false}},
                      "strokeDash": {"datum": "Observed Cloud-Top R", "type": "nominal", "scale": {"range": [[1, 0]]}, "legend": {"orient": "none", "legendX": -12, "legendY": 579, "title": null, "symbolType": "stroke", "symbolSize": 576, "symbolStrokeWidth": 3, "symbolStrokeColor": "#000", "labelFontSize": 8, "labelOffset": 4, "padding": 0}}}},
        {"data": {"name": "sims"}, "transform": [{"filter": "datum.p == 'a'"}], "mark": {"type": "line", "strokeWidth": 1.3, "interpolate": "monotone"},
         "encoding": {"x": {"field": "x", "type": "quantitative"}, "y": {"field": "v", "type": "quantitative"},
                      "color": {"field": "c", "type": "nominal", "scale": {"domain": ["CER = 8μm", "CER = 9μm", "CER = 10μm", "CER = 12μm"], "range": ["#ebe11a", "#f5b955", "#8b6516", "#c41a1a"]},
                                "legend": {"orient": "none", "legendX": -12, "legendY": 597, "title": null, "direction": "horizontal", "gridAlign": "none", "symbolType": "stroke", "symbolSize": 576, "symbolStrokeWidth": 1.6, "labelFontSize": 7, "labelOffset": 4, "columnPadding": 4, "padding": 0}}}},
        {"data": {"name": "dots"}, "mark": {"type": "rule", "color": "#000", "strokeWidth": 1.2, "strokeDash": [1.2, 1.6]},
         "encoding": {"x": {"field": "x", "type": "quantitative"}, "y": {"field": "y1", "type": "quantitative"}, "y2": {"field": "y2"}}},
        {"data": {"name": "notes"}, "transform": [{"filter": "datum.p == 'a'"}], "mark": {"type": "text", "align": "left", "baseline": "middle", "fontSize": 7.5, "font": "Liberation Serif"},
         "encoding": {"x": {"datum": 423, "type": "quantitative"}, "y": {"datum": 0.0866, "type": "quantitative"}, "text": {"field": "lab"}}},
        {"data": {"name": "notes"}, "transform": [{"filter": "datum.p == 'a'"}], "mark": {"type": "text", "align": "left", "baseline": "middle", "fontSize": 7.5, "font": "Liberation Serif"},
         "encoding": {"x": {"datum": 463, "type": "quantitative"}, "y": {"datum": 0.0696, "type": "quantitative"}, "text": {"field": "cev"}}},
        {"data": {"values": [{"t": "R"}]}, "mark": {"type": "text", "align": "center", "baseline": "middle", "angle": 270, "fontSize": 8, "font": "Liberation Serif"},
         "encoding": {"x": {"datum": 424.5, "type": "quantitative"}, "y": {"datum": -0.001, "type": "quantitative"}, "text": {"field": "t"}}},
        {"data": {"values": [{"t": "glory"}]}, "mark": {"type": "text", "align": "center", "baseline": "middle", "angle": 270, "fontSize": 5, "font": "Liberation Serif"},
         "encoding": {"x": {"datum": 427.3, "type": "quantitative"}, "y": {"datum": 0.0075, "type": "quantitative"}, "text": {"field": "t"}}}
      ]
    },
    {
      "width": 277, "height": 127,
      "layer": [
        {"data": {"name": "obs"}, "mark": {"type": "line", "color": "#000", "strokeWidth": 2.6},
         "encoding": {"x": {"field": "x", "type": "quantitative", "scale": {"domain": [450, 716], "nice": false, "zero": false}, "axis": {"values": [450,500,550,600,650,700], "tickCount": 10, "title": null, "labelOverlap": false}},
                      "y": {"field": "v", "type": "quantitative", "scale": {"domain": [-0.06, 0.08], "nice": false, "zero": false}, "axis": {"values": [-0.06,-0.04,-0.02,0,0.02,0.04,0.06,0.08], "tickCount": 10, "format": ".2f", "title": null, "labelOverlap": false}},
                      "strokeDash": {"datum": "Observed Cloud-Top R", "type": "nominal", "scale": {"range": [[1, 0]]}, "legend": {"orient": "none", "legendX": -12, "legendY": 579, "title": null, "symbolType": "stroke", "symbolSize": 576, "symbolStrokeWidth": 3, "symbolStrokeColor": "#000", "labelFontSize": 8, "labelOffset": 4, "padding": 0}}}},
        {"data": {"name": "sims"}, "transform": [{"filter": "datum.p == 'b'"}], "mark": {"type": "line", "strokeWidth": 1.3, "interpolate": "monotone"},
         "encoding": {"x": {"field": "x", "type": "quantitative"}, "y": {"field": "v", "type": "quantitative"},
                      "color": {"field": "c", "type": "nominal", "scale": {"domain": ["CER = 8μm", "CER = 9μm", "CER = 10μm", "CER = 12μm"], "range": ["#ebe11a", "#f5b955", "#8b6516", "#c41a1a"]},
                                "legend": {"orient": "none", "legendX": -12, "legendY": 597, "title": null, "direction": "horizontal", "gridAlign": "none", "symbolType": "stroke", "symbolSize": 576, "symbolStrokeWidth": 1.6, "labelFontSize": 7, "labelOffset": 4, "columnPadding": 4, "padding": 0}}}},
        {"data": {"name": "dots"}, "mark": {"type": "rule", "color": "#000", "strokeWidth": 1.2, "strokeDash": [1.2, 1.6]},
         "encoding": {"x": {"field": "x", "type": "quantitative"}, "y": {"field": "y1", "type": "quantitative"}, "y2": {"field": "y2"}}},
        {"data": {"name": "notes"}, "transform": [{"filter": "datum.p == 'b'"}], "mark": {"type": "text", "align": "left", "baseline": "middle", "fontSize": 7.5, "font": "Liberation Serif"},
         "encoding": {"x": {"datum": 423, "type": "quantitative"}, "y": {"datum": 0.081, "type": "quantitative"}, "text": {"field": "lab"}}},
        {"data": {"name": "notes"}, "transform": [{"filter": "datum.p == 'b'"}], "mark": {"type": "text", "align": "left", "baseline": "middle", "fontSize": 7.5, "font": "Liberation Serif"},
         "encoding": {"x": {"datum": 463, "type": "quantitative"}, "y": {"datum": 0.0696, "type": "quantitative"}, "text": {"field": "cev"}}},
        {"data": {"values": [{"t": "R"}]}, "mark": {"type": "text", "align": "center", "baseline": "middle", "angle": 270, "fontSize": 8, "font": "Liberation Serif"},
         "encoding": {"x": {"datum": 424.5, "type": "quantitative"}, "y": {"datum": -0.001, "type": "quantitative"}, "text": {"field": "t"}}},
        {"data": {"values": [{"t": "glory"}]}, "mark": {"type": "text", "align": "center", "baseline": "middle", "angle": 270, "fontSize": 5, "font": "Liberation Serif"},
         "encoding": {"x": {"datum": 427.3, "type": "quantitative"}, "y": {"datum": 0.0075, "type": "quantitative"}, "text": {"field": "t"}}}
      ]
    },
    {
      "width": 277, "height": 127,
      "layer": [
        {"data": {"name": "obs"}, "mark": {"type": "line", "color": "#000", "strokeWidth": 2.6},
         "encoding": {"x": {"field": "x", "type": "quantitative", "scale": {"domain": [450, 716], "nice": false, "zero": false}, "axis": {"values": [450,500,550,600,650,700], "tickCount": 10, "title": null, "labelOverlap": false}},
                      "y": {"field": "v", "type": "quantitative", "scale": {"domain": [-0.06, 0.08], "nice": false, "zero": false}, "axis": {"values": [-0.06,-0.04,-0.02,0,0.02,0.04,0.06,0.08], "tickCount": 10, "format": ".2f", "title": null, "labelOverlap": false}},
                      "strokeDash": {"datum": "Observed Cloud-Top R", "type": "nominal", "scale": {"range": [[1, 0]]}, "legend": {"orient": "none", "legendX": -12, "legendY": 579, "title": null, "symbolType": "stroke", "symbolSize": 576, "symbolStrokeWidth": 3, "symbolStrokeColor": "#000", "labelFontSize": 8, "labelOffset": 4, "padding": 0}}}},
        {"data": {"name": "sims"}, "transform": [{"filter": "datum.p == 'c'"}], "mark": {"type": "line", "strokeWidth": 1.3, "interpolate": "monotone"},
         "encoding": {"x": {"field": "x", "type": "quantitative"}, "y": {"field": "v", "type": "quantitative"},
                      "color": {"field": "c", "type": "nominal", "scale": {"domain": ["CER = 8μm", "CER = 9μm", "CER = 10μm", "CER = 12μm"], "range": ["#ebe11a", "#f5b955", "#8b6516", "#c41a1a"]},
                                "legend": {"orient": "none", "legendX": -12, "legendY": 597, "title": null, "direction": "horizontal", "gridAlign": "none", "symbolType": "stroke", "symbolSize": 576, "symbolStrokeWidth": 1.6, "labelFontSize": 7, "labelOffset": 4, "columnPadding": 4, "padding": 0}}}},
        {"data": {"name": "dots"}, "mark": {"type": "rule", "color": "#000", "strokeWidth": 1.2, "strokeDash": [1.2, 1.6]},
         "encoding": {"x": {"field": "x", "type": "quantitative"}, "y": {"field": "y1", "type": "quantitative"}, "y2": {"field": "y2"}}},
        {"data": {"name": "notes"}, "transform": [{"filter": "datum.p == 'c'"}], "mark": {"type": "text", "align": "left", "baseline": "middle", "fontSize": 7.5, "font": "Liberation Serif"},
         "encoding": {"x": {"datum": 423, "type": "quantitative"}, "y": {"datum": 0.081, "type": "quantitative"}, "text": {"field": "lab"}}},
        {"data": {"name": "notes"}, "transform": [{"filter": "datum.p == 'c'"}], "mark": {"type": "text", "align": "left", "baseline": "middle", "fontSize": 7.5, "font": "Liberation Serif"},
         "encoding": {"x": {"datum": 463, "type": "quantitative"}, "y": {"datum": 0.0696, "type": "quantitative"}, "text": {"field": "cev"}}},
        {"data": {"values": [{"t": "R"}]}, "mark": {"type": "text", "align": "center", "baseline": "middle", "angle": 270, "fontSize": 8, "font": "Liberation Serif"},
         "encoding": {"x": {"datum": 424.5, "type": "quantitative"}, "y": {"datum": -0.001, "type": "quantitative"}, "text": {"field": "t"}}},
        {"data": {"values": [{"t": "glory"}]}, "mark": {"type": "text", "align": "center", "baseline": "middle", "angle": 270, "fontSize": 5, "font": "Liberation Serif"},
         "encoding": {"x": {"datum": 427.3, "type": "quantitative"}, "y": {"datum": 0.0075, "type": "quantitative"}, "text": {"field": "t"}}}
      ]
    },
    {
      "width": 277, "height": 127,
      "layer": [
        {"data": {"name": "obs"}, "mark": {"type": "line", "color": "#000", "strokeWidth": 2.6},
         "encoding": {"x": {"field": "x", "type": "quantitative", "scale": {"domain": [450, 716], "nice": false, "zero": false}, "axis": {"values": [450,500,550,600,650,700], "tickCount": 10, "title": "Across-Track Pixel Number", "titleFontSize": 8, "titlePadding": 1, "labelOverlap": false}},
                      "y": {"field": "v", "type": "quantitative", "scale": {"domain": [-0.06, 0.08], "nice": false, "zero": false}, "axis": {"values": [-0.06,-0.04,-0.02,0,0.02,0.04,0.06,0.08], "tickCount": 10, "format": ".2f", "title": null, "labelOverlap": false}},
                      "strokeDash": {"datum": "Observed Cloud-Top R", "type": "nominal", "scale": {"range": [[1, 0]]}, "legend": {"orient": "none", "legendX": -12, "legendY": 579, "title": null, "symbolType": "stroke", "symbolSize": 576, "symbolStrokeWidth": 3, "symbolStrokeColor": "#000", "labelFontSize": 8, "labelOffset": 4, "padding": 0}}}},
        {"data": {"name": "sims"}, "transform": [{"filter": "datum.p == 'd'"}], "mark": {"type": "line", "strokeWidth": 1.3, "interpolate": "monotone"},
         "encoding": {"x": {"field": "x", "type": "quantitative"}, "y": {"field": "v", "type": "quantitative"},
                      "color": {"field": "c", "type": "nominal", "scale": {"domain": ["CER = 8μm", "CER = 9μm", "CER = 10μm", "CER = 12μm"], "range": ["#ebe11a", "#f5b955", "#8b6516", "#c41a1a"]},
                                "legend": {"orient": "none", "legendX": -12, "legendY": 597, "title": null, "direction": "horizontal", "gridAlign": "none", "symbolType": "stroke", "symbolSize": 576, "symbolStrokeWidth": 1.6, "labelFontSize": 7, "labelOffset": 4, "columnPadding": 4, "padding": 0}}}},
        {"data": {"name": "dots"}, "mark": {"type": "rule", "color": "#000", "strokeWidth": 1.2, "strokeDash": [1.2, 1.6]},
         "encoding": {"x": {"field": "x", "type": "quantitative"}, "y": {"field": "y1", "type": "quantitative"}, "y2": {"field": "y2"}}},
        {"data": {"name": "notes"}, "transform": [{"filter": "datum.p == 'd'"}], "mark": {"type": "text", "align": "left", "baseline": "middle", "fontSize": 7.5, "font": "Liberation Serif"},
         "encoding": {"x": {"datum": 423, "type": "quantitative"}, "y": {"datum": 0.081, "type": "quantitative"}, "text": {"field": "lab"}}},
        {"data": {"name": "notes"}, "transform": [{"filter": "datum.p == 'd'"}], "mark": {"type": "text", "align": "left", "baseline": "middle", "fontSize": 7.5, "font": "Liberation Serif"},
         "encoding": {"x": {"datum": 463, "type": "quantitative"}, "y": {"datum": 0.0696, "type": "quantitative"}, "text": {"field": "cev"}}},
        {"data": {"values": [{"t": "R"}]}, "mark": {"type": "text", "align": "center", "baseline": "middle", "angle": 270, "fontSize": 8, "font": "Liberation Serif"},
         "encoding": {"x": {"datum": 424.5, "type": "quantitative"}, "y": {"datum": -0.001, "type": "quantitative"}, "text": {"field": "t"}}},
        {"data": {"values": [{"t": "glory"}]}, "mark": {"type": "text", "align": "center", "baseline": "middle", "angle": 270, "fontSize": 5, "font": "Liberation Serif"},
         "encoding": {"x": {"datum": 427.3, "type": "quantitative"}, "y": {"datum": 0.0075, "type": "quantitative"}, "text": {"field": "t"}}},
        {"data": {"values": [{"t": "glory"}]}, "mark": {"type": "text", "align": "left", "baseline": "middle", "fontSize": 5, "font": "Liberation Serif"},
         "encoding": {"x": {"datum": 539, "type": "quantitative"}, "y": {"datum": -0.0978, "type": "quantitative"}, "text": {"field": "t"}}}
      ]
    }
  ],
  "config": {
    "font": "Liberation Serif",
    "view": {"stroke": "#888", "strokeWidth": 0.8},
    "axis": {"domain": false, "grid": false, "labelOverlap": false, "labelFont": "Liberation Serif", "labelFontSize": 5.5, "labelColor": "#222", "tickColor": "#888", "tickSize": -2.5, "tickWidth": 0.7, "labelPadding": 4, "titleFont": "Liberation Serif", "titleFontWeight": "normal", "titleColor": "#111"},
    "legend": {"labelFont": "Liberation Serif", "labelColor": "#111"},
    "text": {"font": "Liberation Serif"}
  }
}
